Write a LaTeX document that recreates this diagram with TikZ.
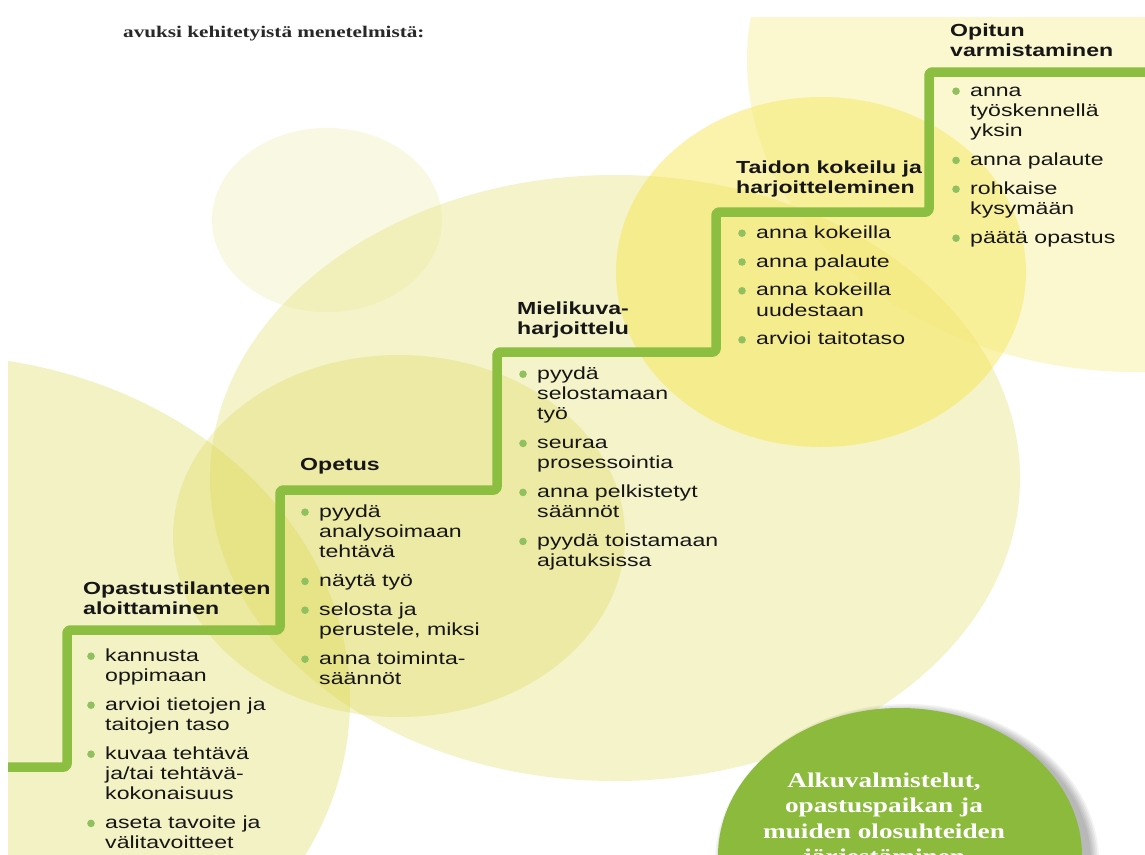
\documentclass[tikz,border=0pt]{standalone}
\usepackage{fontspec}
\setmainfont{Liberation Sans}[FakeStretch=1.32]
\newfontfamily\serifx{Liberation Serif}[FakeStretch=1.3]
\definecolor{stairgreen}{RGB}{140,190,65}
\definecolor{dotgreen}{RGB}{145,192,95}
\definecolor{ballgreen}{RGB}{140,186,60}
\definecolor{txt}{RGB}{22,22,22}
\definecolor{yelA}{RGB}{220,216,80}
\definecolor{yelE}{RGB}{248,228,70}
\definecolor{yelF}{RGB}{245,235,120}
\definecolor{yelC}{RGB}{235,230,140}
\newcommand\bul{\makebox[19pt][l]{\kern1pt\raisebox{1.2pt}{\tikz[x=1pt,y=1pt]\fill[dotgreen] (0,0) circle[radius=3.8pt];}}}
\newcommand\ind{\hspace*{19pt}}
\newcommand\gap{\\[8.6pt]}
\newcommand\fst{\rule{0pt}{17pt}}
\begin{document}
\begin{tikzpicture}[x=1pt,y=-1pt,
  stair/.style={draw=stairgreen,line width=9.5pt,rounded corners=3pt,line join=round},
  listtext/.style={anchor=north west,inner sep=0pt,align=left,text=txt,
    font=\fontsize{17.5}{20.2}\selectfont},
  titletext/.style={anchor=north west,inner sep=0pt,align=left,text=txt,
    font=\fontsize{17.5}{20}\selectfont\bfseries},
  balltext/.style={anchor=north,inner sep=0pt,align=center,text=white,
    font=\serifx\fontsize{21}{25.5}\selectfont\bfseries}]
\useasboundingbox (0,0) rectangle (1145,854);
\fill[white] (0,0) rectangle (1145,854);
\begin{scope}
\clip (8,17) rectangle (1145,854);
% background circles
\fill[yelA,opacity=0.33] (-70,700) ellipse [x radius=420pt, y radius=345pt];
\fill[yelA,opacity=0.30] (615,478) ellipse [x radius=405pt, y radius=303pt];
\fill[yelC,opacity=0.25] (327,220) ellipse [x radius=115pt, y radius=92pt];
\fill[yelA,opacity=0.30] (399,536) ellipse [x radius=226pt, y radius=181pt];
\fill[yelE,opacity=0.45] (821,272) ellipse [x radius=205pt, y radius=175pt];
\fill[yelF,opacity=0.35] (1137,60) ellipse [x radius=390pt, y radius=312pt];
% staircase
\coordinate (s0) at (0,767);
\coordinate (s1) at (67,767);
\coordinate (s2) at (67,630);
\coordinate (s3) at (280,630);
\coordinate (s4) at (280,490);
\coordinate (s5) at (497,490);
\coordinate (s6) at (497,352);
\coordinate (s7) at (716,352);
\coordinate (s8) at (716,212);
\coordinate (s9) at (929,212);
\coordinate (s10) at (929,72);
\coordinate (s11) at (1160,72);
\draw[stair] (s0) -- (s1) -- (s2) -- (s3) -- (s4) -- (s5) -- (s6) -- (s7) -- (s8) -- (s9) -- (s10) -- (s11);
% green ball with soft shadow
\foreach \i in {0,...,5}{
  \fill[black,opacity=0.05] (907,862) ellipse [x radius={184pt+\i*1.6pt}, y radius={150pt+\i*1.6pt}];
}
\fill[ballgreen] (900,856) ellipse [x radius=182pt, y radius=148pt];
\node[balltext] (ball) at (884,767) {\rule{0pt}{20pt}Alkuvalmistelut,\\ opastuspaikan ja\\ muiden olosuhteiden\\ järjestäminen};
\end{scope}
% header text
\node[anchor=base west,inner sep=0pt,text={rgb,255:red,40;green,40;blue,40},
  font=\serifx\fontsize{16.3}{18}\selectfont\bfseries] (head) at (123,37) {avuksi kehitetyistä menetelmistä:};
% titles
\node[titletext] (t1) at (83,577) {\fst Opastustilanteen\\ aloittaminen};
\node[titletext] (t2) at (300,453) {\fst Opetus};
\node[titletext] (t3) at (517,297) {\fst Mielikuva-\\ harjoittelu};
\node[titletext] (t4) at (736,156) {\fst Taidon kokeilu ja\\ harjoitteleminen};
\node[titletext] (t5) at (950,19) {\fst Opitun\\ varmistaminen};
% lists
\node[listtext] (l1) at (86,644) {\fst\bul kannusta\\ \ind oppimaan\gap
  \bul arvioi tietojen ja\\ \ind taitojen taso\gap
  \bul kuvaa tehtävä\\ \ind ja/tai tehtävä-\\ \ind kokonaisuus\gap
  \bul aseta tavoite ja\\ \ind välitavoitteet};
\node[listtext] (l2) at (300,500) {\fst\bul pyydä\\ \ind analysoimaan\\ \ind tehtävä\gap
  \bul näytä työ\gap
  \bul selosta ja\\ \ind perustele, miksi\gap
  \bul anna toiminta-\\ \ind säännöt};
\node[listtext] (l3) at (518,362) {\fst\bul pyydä\\ \ind selostamaan\\ \ind työ\gap
  \bul seuraa\\ \ind prosessointia\gap
  \bul anna pelkistetyt\\ \ind säännöt\gap
  \bul pyydä toistamaan\\ \ind ajatuksissa};
\node[listtext] (l4) at (737,221) {\fst\bul anna kokeilla\gap
  \bul anna palaute\gap
  \bul anna kokeilla\\ \ind uudestaan\gap
  \bul arvioi taitotaso};
\node[listtext] (l5) at (951,79) {\fst\bul anna\\ \ind työskennellä\\ \ind yksin\gap
  \bul anna palaute\gap
  \bul rohkaise\\ \ind kysymään\gap
  \bul päätä opastus};
\end{tikzpicture}
\end{document}
